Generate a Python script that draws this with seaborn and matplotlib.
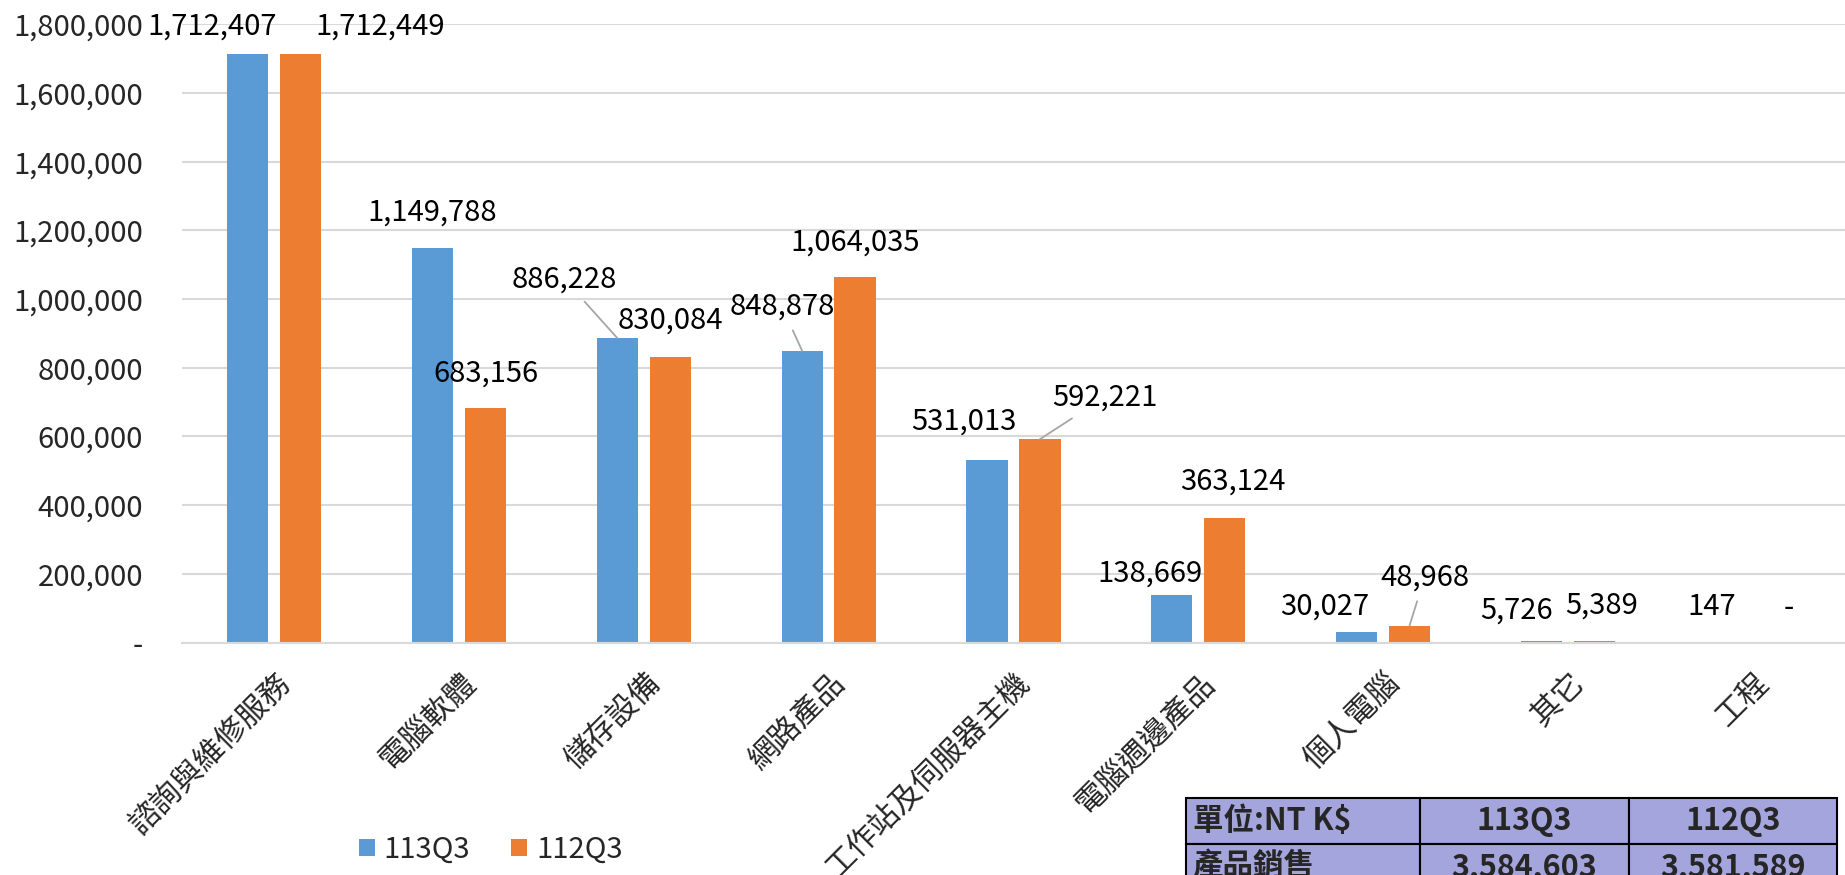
import numpy as np
import pandas as pd
import matplotlib
matplotlib.use('Agg')
import matplotlib.pyplot as plt
import matplotlib.transforms as mtransforms
import seaborn as sns

categories = ['諮詢與維修服務', '電腦軟體', '儲存設備', '網路產品', '工作站及伺服器主機',
              '電腦週邊產品', '個人電腦', '其它', '工程']
series_names = ['113Q3', '112Q3']
values_113q3 = [1712407, 1149788, 886228, 848878, 531013, 138669, 30027, 5726, 147]
values_112q3 = [1712449, 683156, 830084, 1064035, 592221, 363124, 48968, 5389, np.nan]
yticks = list(range(0, 1800001, 200000))
table_header = ['單位:NT K$', '113Q3', '112Q3']
table_row = ['產品銷售', '3,584,603', '3,581,589']

# label offsets (pixels, dx right / dy up from bar top) and leader line flags
offsets_113 = [(-36, 28), (0, 35), (-53, 59), (-20, 44), (-23, 39), (-22, 21), (-32, 26), (-25, 30), (-14, 35)]
offsets_112 = [(79, 28), (0, 34), (0, 37), (0, 35), (65, 42), (8, 36), (15, 48), (7, 35), (10, 35)]
leader_113 = [False, False, True, True, False, False, False, False, False]
leader_112 = [False, False, False, False, True, False, True, False, False]

colors = ['#5B9BD5', '#ED7D31']

df = pd.DataFrame({
    'cat': categories * 2,
    'series': [series_names[0]] * len(categories) + [series_names[1]] * len(categories),
    'value': values_113q3 + values_112q3,
})
df['plot_value'] = df['value'].fillna(0)

sns.set_theme(style='white')
plt.rcParams['font.family'] = ['Noto Sans CJK TC', 'DejaVu Sans']

fig = plt.figure(figsize=(18.45, 8.75), dpi=100)
ax = fig.add_axes([0.0986, 0.2657, 0.9014, 0.7064])

sns.barplot(data=df, x='cat', y='plot_value', hue='series', hue_order=series_names,
            palette=colors, width=0.573, gap=0.22, linewidth=0, saturation=1,
            errorbar=None, ax=ax)

ax.set_ylim(0, 1800000)
ax.set_xlim(-0.5, len(categories) - 0.5)
ax.set_yticks(yticks)
ax.set_yticklabels(['-' if v == 0 else f'{v:,}' for v in yticks], fontsize=21)
ax.yaxis.grid(True, color='#D9D9D9', lw=1.5)
ax.set_axisbelow(True)
for s in ['top', 'right', 'left']:
    ax.spines[s].set_visible(False)
ax.spines['bottom'].set_color('#D9D9D9')
ax.spines['bottom'].set_linewidth(1.5)
ax.tick_params(axis='y', length=0, pad=28)
ax.tick_params(axis='x', length=0, pad=18)
ax.set_xlabel('')
ax.set_ylabel('')

shift = mtransforms.ScaledTranslation(1 / 100, 0, fig.dpi_scale_trans)
for lab in ax.get_xticklabels():
    lab.set_rotation(45)
    lab.set_ha('right')
    lab.set_va('top')
    lab.set_rotation_mode('anchor')
    lab.set_fontsize(22)
    lab.set_transform(lab.get_transform() + shift)

# data labels
for cont, vals, offs, leads in [(ax.containers[0], values_113q3, offsets_113, leader_113),
                                (ax.containers[1], values_112q3, offsets_112, leader_112)]:
    for bar, v, (dx, dy), lead in zip(cont.patches, vals, offs, leads):
        x = bar.get_x() + bar.get_width() / 2
        h = bar.get_height()
        txt = '-' if np.isnan(v) else f'{int(v):,}'
        arrow = dict(arrowstyle='-', color='#A6A6A6', lw=1.3, shrinkA=4, shrinkB=0) if lead else None
        ax.annotate(txt, xy=(x, h), xytext=(dx * 0.72, dy * 0.72), textcoords='offset points',
                    ha='center', va='center', fontsize=21, color='black', arrowprops=arrow)

handles, labels = ax.get_legend_handles_labels()
ax.legend(handles, labels, loc='center left', bbox_to_anchor=(0.1946, 0.0286),
          bbox_transform=fig.transFigure, ncol=2, frameon=False, fontsize=21,
          handlelength=0.55, handleheight=0.55, handletextpad=0.3, columnspacing=1.4,
          borderpad=0, borderaxespad=0)

# summary table in the lower right corner
tax = fig.add_axes([0.6428, -0.0171, 0.3528, 0.1051])
tax.axis('off')
tbl = tax.table(cellText=[table_header, table_row], bbox=[0, 0, 1, 1],
                colWidths=[0.3594, 0.321, 0.3195], cellLoc='center')
tbl.auto_set_font_size(False)
for (r, c), cell in tbl.get_celld().items():
    cell.set_facecolor('#A5A5DE')
    cell.set_edgecolor('black')
    cell.set_linewidth(1.5)
    cell.get_text().set_fontsize(22)
    cell.get_text().set_fontweight('bold')
    if c == 0:
        cell.get_text().set_ha('left')
        cell.PAD = 0.03

fig.savefig('out.png', dpi=100)
